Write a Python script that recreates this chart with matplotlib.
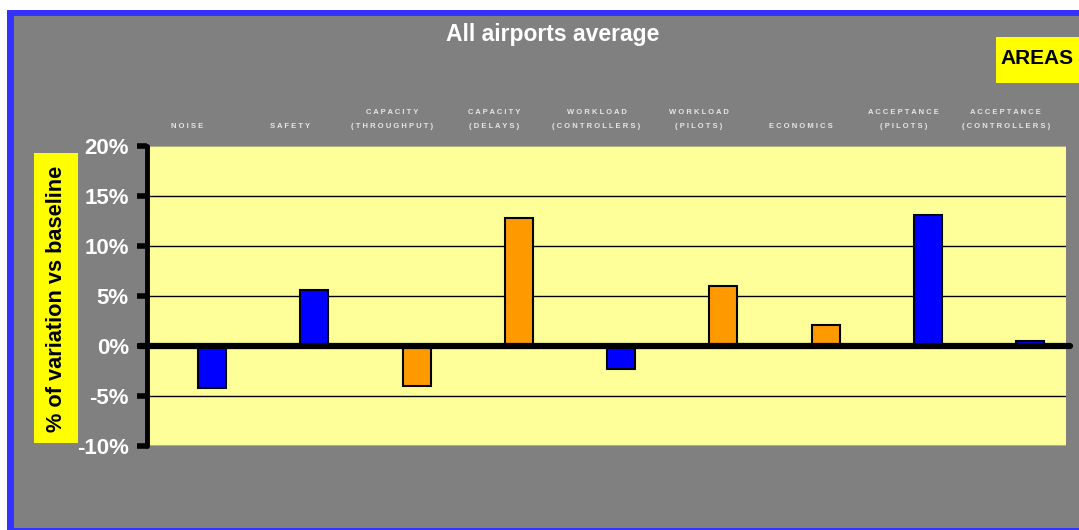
import numpy as np
import matplotlib
matplotlib.use('Agg')
import matplotlib.pyplot as plt
from matplotlib.patches import Rectangle
from matplotlib.transforms import blended_transform_factory

plt.rcParams['font.family'] = ['Liberation Sans', 'DejaVu Sans']

categories = ['NOISE', 'SAFETY', 'CAPACITY\n(THROUGHPUT)', 'CAPACITY\n(DELAYS)',
              'WORKLOAD\n(CONTROLLERS)', 'WORKLOAD\n(PILOTS)', 'ECONOMICS',
              'ACCEPTANCE\n(PILOTS)', 'ACCEPTANCE\n(CONTROLLERS)']
values = [-4.2, 5.6, -4.0, 12.8, -2.3, 6.0, 2.1, 13.1, 0.5]
bar_colors = ['#0000FF', '#0000FF', '#FF9900', '#FF9900', '#0000FF',
              '#FF9900', '#FF9900', '#0000FF', '#0000FF']
yticks = [-10, -5, 0, 5, 10, 15, 20]

W, H = 1079, 530
fig = plt.figure(figsize=(W / 100, H / 100), dpi=100, facecolor='white')


def fig_rect(x0, y0, x1, y1, color, z):
    # rectangle given in pixel coords, y measured from the top
    fig.patches.append(Rectangle((x0 / W, 1 - y1 / H), (x1 - x0) / W, (y1 - y0) / H,
                                 transform=fig.transFigure, facecolor=color,
                                 edgecolor='none', zorder=z))


# gray panel with blue frame
fig_rect(7, 10, W, H, '#3333FF', -3)
fig_rect(14, 16, W, H - 2, '#808080', -2)

ax = fig.add_axes([147 / W, (H - 446) / H, (1066 - 147) / W, 300 / H])
ax.set_facecolor('#FFFF99')
x = np.arange(len(categories))
ax.set_xlim(-0.636, 8.35)
ax.set_ylim(-10, 20)

for y in [-5, 5, 10, 15]:
    ax.axhline(y, color='black', lw=1, zorder=1)
ax.axhline(20, color='#B0B080', lw=1.5, zorder=1)
ax.axhline(-10, color='#B0B080', lw=1.5, zorder=1)

ax.bar(x, values, width=0.274, color=bar_colors, edgecolor='black', linewidth=1.5, zorder=3)
ax.plot([-0.70, 8.39], [0, 0], color='black', lw=4.5, solid_capstyle='round',
        clip_on=False, zorder=4)

for s in ['top', 'right', 'bottom']:
    ax.spines[s].set_visible(False)
ax.spines['left'].set_linewidth(3.5)
ax.spines['left'].set_capstyle('round')
ax.spines['left'].set_zorder(5)
ax.set_xticks([])
ax.set_yticks(yticks)
ax.set_yticklabels([f'{v}%' for v in yticks], color='white', fontweight='bold', fontsize=16)
ax.tick_params(axis='y', length=7, width=4, pad=6)

# category labels above plot, letter-spaced
trans = blended_transform_factory(ax.transData, fig.transFigure)
for i, cat in enumerate(categories):
    spaced = '\n'.join(' '.join(list(line)) for line in cat.split('\n'))
    ax.text(i - 0.24, 1 - 130 / H, spaced, transform=trans, ha='center', va='bottom',
            fontsize=5.5, fontweight='bold', color='#E6E6E6', linespacing=2.4)

fig.text(553 / W, 1 - 34 / H, 'All airports average', ha='center', va='center',
         fontsize=16.5, fontweight='bold', color='white')

# AREAS box
fig_rect(996, 37, W, 83, '#FFFF00', 1)
fig.text(1037 / W, 1 - 59 / H, 'AREAS', ha='center', va='center', fontsize=15,
         fontweight='bold', color='black')

# y label box
fig_rect(34, 153, 78, 443, '#FFFF00', 1)
fig.text(57 / W, 1 - 299 / H, '% of variation vs baseline', ha='center', va='center',
         rotation=90, fontsize=15.7, fontweight='bold', color='black')

fig.savefig('out.png', dpi=100)
